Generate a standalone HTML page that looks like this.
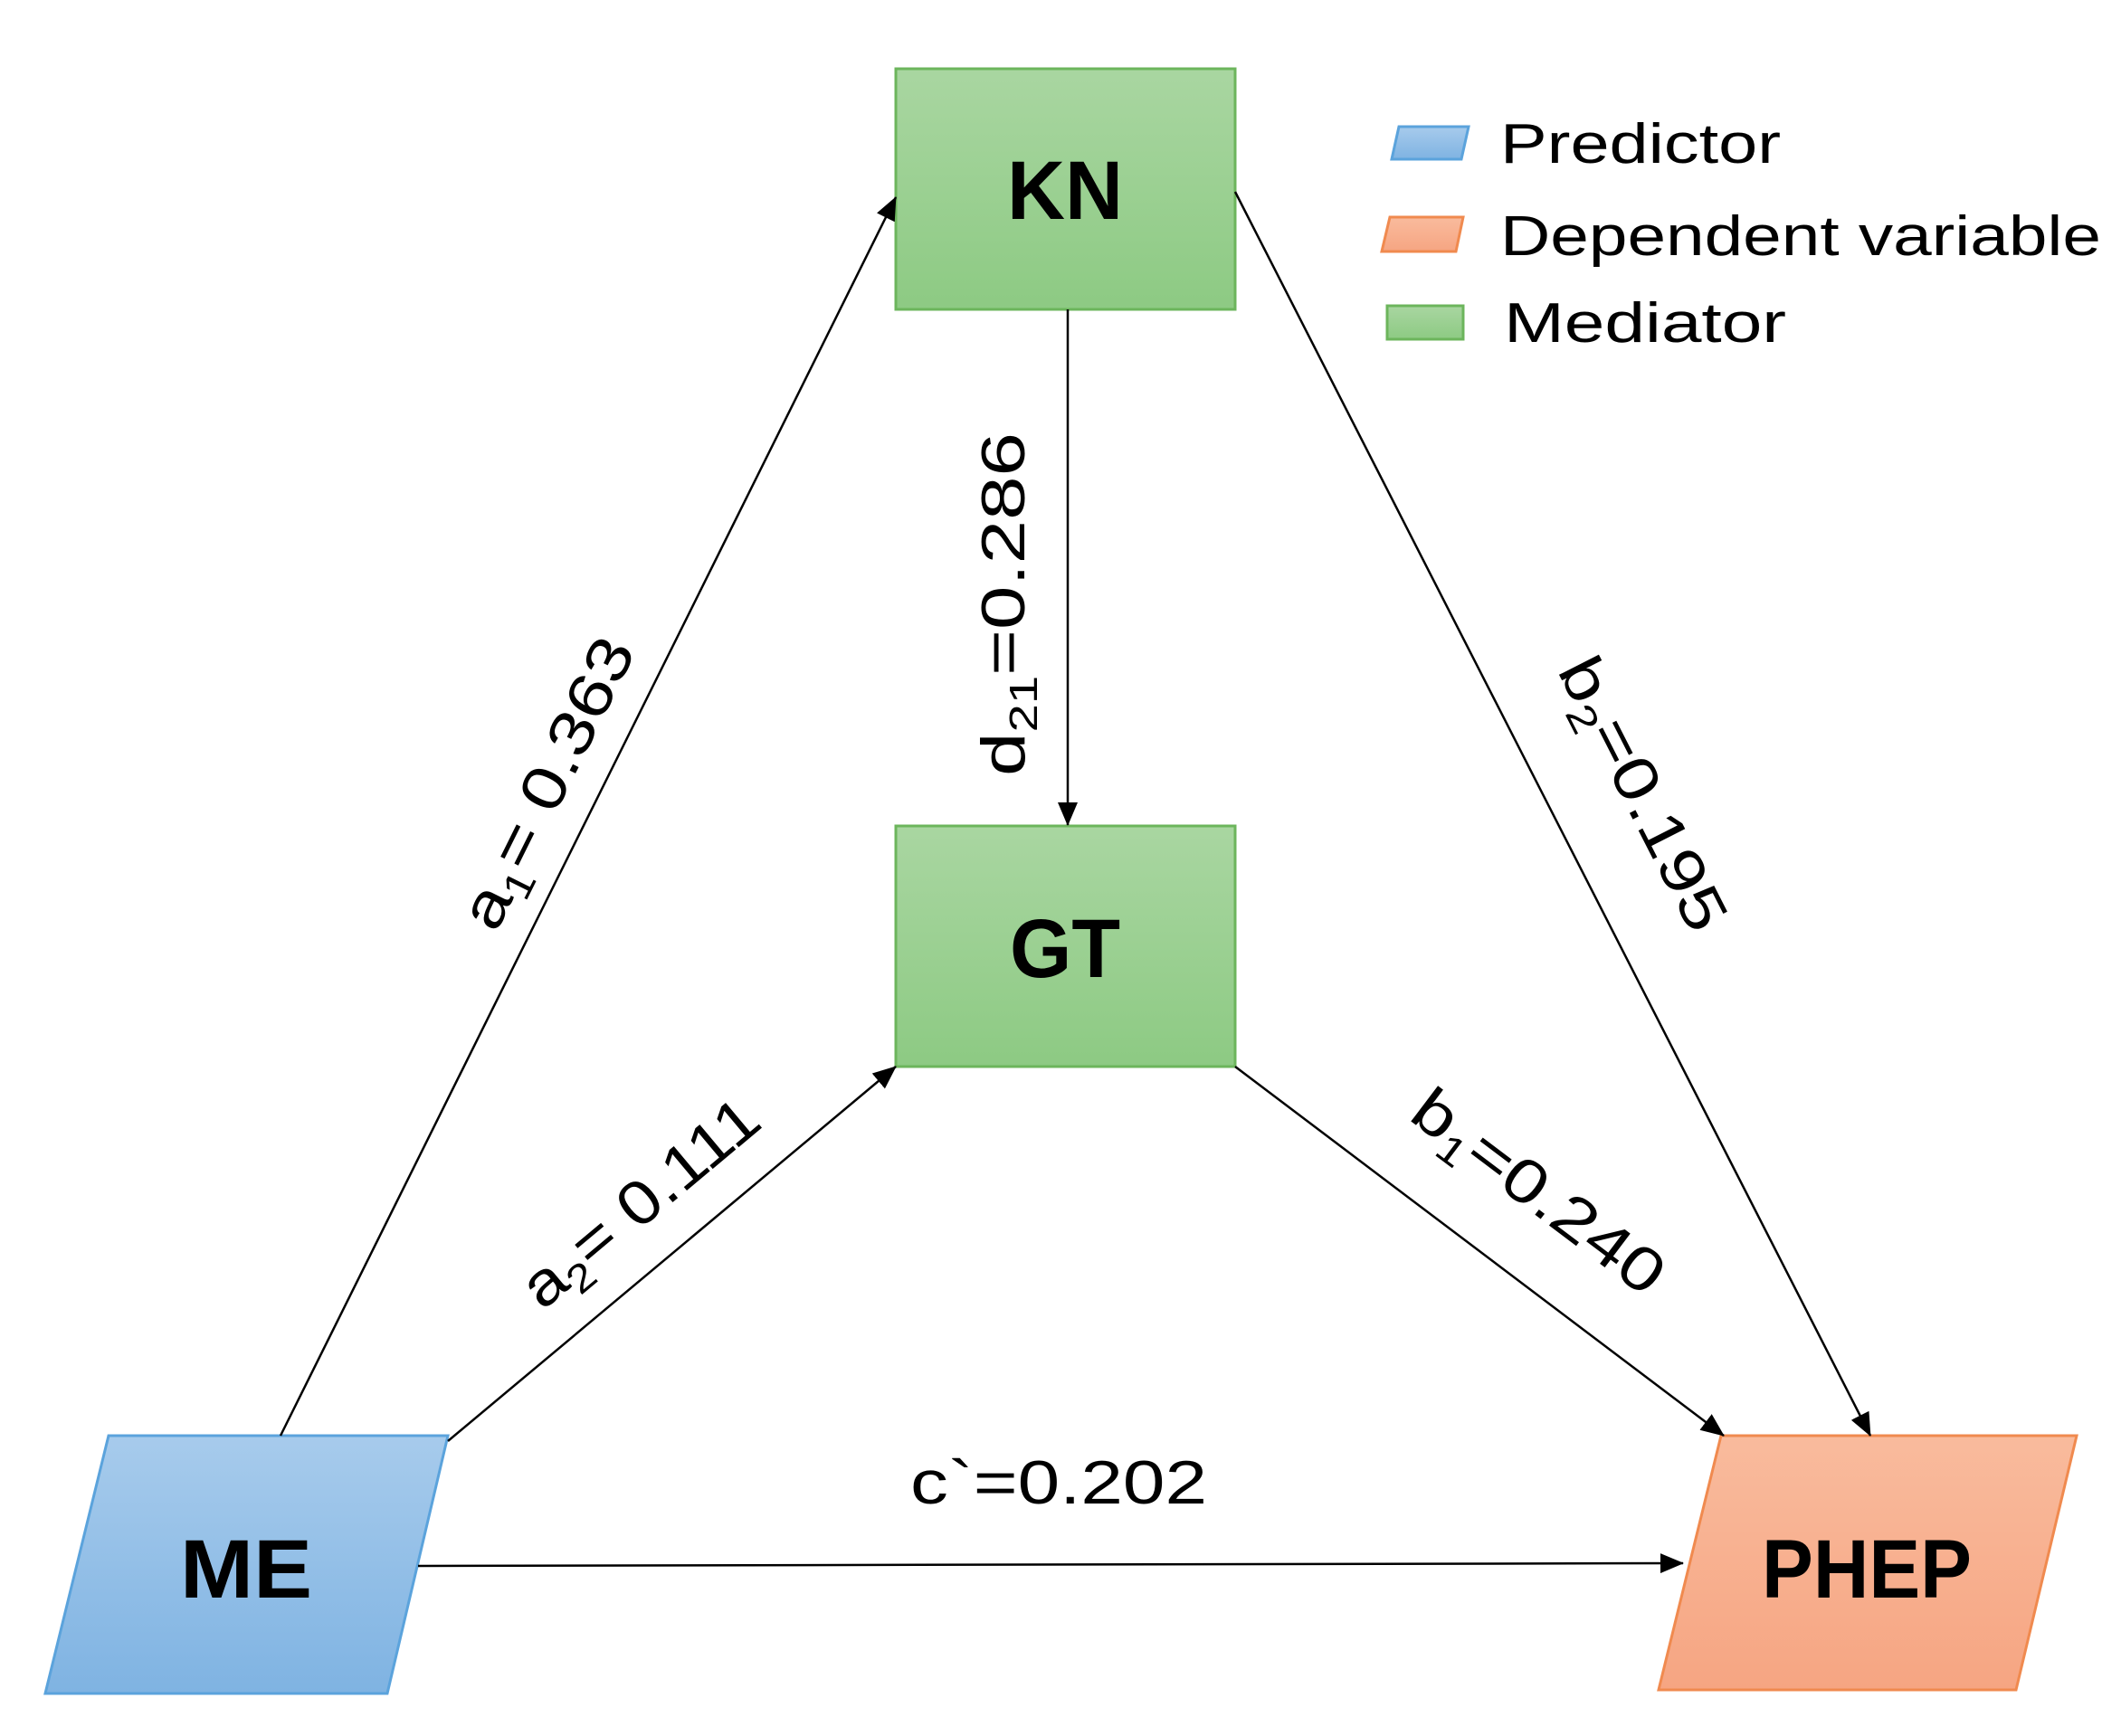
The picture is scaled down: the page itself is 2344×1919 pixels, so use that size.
<!DOCTYPE html>
<html><head><meta charset="utf-8"><style>
html,body{margin:0;padding:0;background:#fff;}
svg{display:block;}
text{font-family:"Liberation Sans",sans-serif;fill:#000;}
</style></head><body>
<svg width="2344" height="1919" viewBox="0 0 2344 1919" xmlns="http://www.w3.org/2000/svg">
<defs>
<linearGradient id="g" x1="0" y1="0" x2="0" y2="1"><stop offset="0" stop-color="#a9d6a1"/><stop offset="1" stop-color="#8dca83"/></linearGradient>
<linearGradient id="b" x1="0" y1="0" x2="0" y2="1"><stop offset="0" stop-color="#a7cbec"/><stop offset="1" stop-color="#7fb3e2"/></linearGradient>
<linearGradient id="o" x1="0" y1="0" x2="0" y2="1"><stop offset="0" stop-color="#f9bb9d"/><stop offset="1" stop-color="#f6a582"/></linearGradient>
<marker id="ar" markerWidth="12" markerHeight="10" refX="11" refY="5" orient="auto" markerUnits="userSpaceOnUse" viewBox="0 0 12 10">
<path d="M0,0 L12,5 L0,10 z" fill="#000"/></marker>
<marker id="ar2" markerWidth="26" markerHeight="22" refX="25" refY="11" orient="auto" markerUnits="userSpaceOnUse" viewBox="0 0 26 22">
<path d="M0,0 L26,11 L0,22 z" fill="#000"/></marker>
</defs>

<!-- boxes -->
<rect x="990" y="76" width="375" height="266" fill="url(#g)" stroke="#6cb55c" stroke-width="3"/>
<rect x="990" y="913" width="375" height="266" fill="url(#g)" stroke="#6cb55c" stroke-width="3"/>
<polygon points="120,1587 495,1587 428,1872 50,1872" fill="url(#b)" stroke="#5ba3dc" stroke-width="3"/>
<polygon points="1902,1587 2295,1587 2228,1868 1833,1868" fill="url(#o)" stroke="#f08a4f" stroke-width="3"/>

<!-- arrows -->
<g stroke="#000" stroke-width="2.5" fill="none">
<line x1="310" y1="1587" x2="990" y2="218" marker-end="url(#ar2)"/>
<line x1="495" y1="1593" x2="990" y2="1179" marker-end="url(#ar2)"/>
<line x1="462" y1="1731" x2="1860" y2="1728" marker-end="url(#ar2)"/>
<line x1="1180" y1="342" x2="1180" y2="912" marker-end="url(#ar2)"/>
<line x1="1365" y1="212" x2="2067" y2="1587" marker-end="url(#ar2)"/>
<line x1="1365" y1="1179" x2="1905" y2="1587" marker-end="url(#ar2)"/>
</g>

<!-- node labels -->
<text x="1177" y="242" font-size="92" font-weight="bold" text-anchor="middle" textLength="128" lengthAdjust="spacingAndGlyphs">KN</text>
<text x="1177" y="1080" font-size="92" font-weight="bold" text-anchor="middle" textLength="122" lengthAdjust="spacingAndGlyphs">GT</text>
<text x="272" y="1766" font-size="92" font-weight="bold" text-anchor="middle" textLength="146" lengthAdjust="spacingAndGlyphs">ME</text>
<text x="2063" y="1766" font-size="92" font-weight="bold" text-anchor="middle" textLength="232" lengthAdjust="spacingAndGlyphs">PHEP</text>

<!-- edge labels -->
<text x="1170" y="1662" font-size="68" text-anchor="middle" textLength="328" lengthAdjust="spacingAndGlyphs">c`=0.202</text>
<g transform="translate(606,866) rotate(-63.6)"><text x="0" y="22" font-size="68" text-anchor="middle" textLength="350" lengthAdjust="spacingAndGlyphs">a<tspan font-size="44" dy="14">1</tspan><tspan dy="-14">= 0.363</tspan></text></g>
<g transform="translate(708,1330) rotate(-39.9)"><text x="0" y="22" font-size="68" text-anchor="middle" textLength="320" lengthAdjust="spacingAndGlyphs">a<tspan font-size="44" dy="14">2</tspan><tspan dy="-14">= 0.111</tspan></text></g>
<g transform="translate(1110,668) rotate(-90)"><text x="0" y="22" font-size="68" text-anchor="middle" textLength="380" lengthAdjust="spacingAndGlyphs">d<tspan font-size="44" dy="14">21</tspan><tspan dy="-14">=0.286</tspan></text></g>
<g transform="translate(1815,878) rotate(63)"><text x="0" y="22" font-size="68" text-anchor="middle" textLength="330" lengthAdjust="spacingAndGlyphs">b<tspan font-size="44" dy="14">2</tspan><tspan dy="-14">=0.195</tspan></text></g>
<g transform="translate(1700,1318) rotate(37)"><text x="0" y="22" font-size="68" text-anchor="middle" textLength="330" lengthAdjust="spacingAndGlyphs">b<tspan font-size="44" dy="14">1</tspan><tspan dy="-14">=0.240</tspan></text></g>

<!-- legend -->
<polygon points="1546,140 1623,140 1615,176 1538,176" fill="url(#b)" stroke="#5ba3dc" stroke-width="3"/>
<polygon points="1536,240 1617,240 1609,278 1527,278" fill="url(#o)" stroke="#f08a4f" stroke-width="3"/>
<rect x="1533" y="338" width="84" height="37" fill="url(#g)" stroke="#6cb55c" stroke-width="3"/>
<text x="1658" y="180" font-size="62" textLength="310" lengthAdjust="spacingAndGlyphs">Predictor</text>
<text x="1658" y="282" font-size="62" textLength="664" lengthAdjust="spacingAndGlyphs">Dependent variable</text>
<text x="1662" y="378" font-size="62" textLength="312" lengthAdjust="spacingAndGlyphs">Mediator</text>
</svg>
</body></html>
